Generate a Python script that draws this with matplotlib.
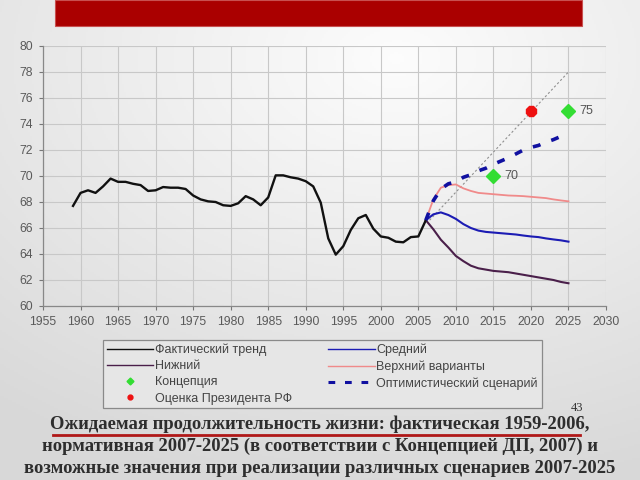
import numpy as np
import matplotlib
matplotlib.use("Agg")
import matplotlib.pyplot as plt
from matplotlib.lines import Line2D
from matplotlib.patches import Rectangle

# ---------------- data ----------------
fact_years = list(range(1959, 2007))
fact_vals = [67.7, 68.7, 68.9, 68.7, 69.2, 69.8, 69.55, 69.55, 69.4, 69.3,
             68.85, 68.9, 69.15, 69.1, 69.1, 69.0, 68.5, 68.2, 68.05, 68.0,
             67.75, 67.7, 67.9, 68.45, 68.2, 67.75, 68.35, 70.05, 70.05, 69.9,
             69.8, 69.6, 69.2, 67.95, 65.2, 63.95, 64.6, 65.85, 66.75, 67.0,
             65.95, 65.35, 65.25, 64.95, 64.9, 65.3, 65.35, 66.6]

fc_years = list(range(2006, 2026))
middle_vals = [66.6, 67.05, 67.2, 67.0, 66.7, 66.3, 66.0, 65.8, 65.7, 65.65,
               65.6, 65.55, 65.5, 65.42, 65.35, 65.3, 65.2, 65.12, 65.05, 64.95]
lower_vals = [66.6, 65.9, 65.1, 64.5, 63.85, 63.45, 63.1, 62.9, 62.8, 62.7,
              62.65, 62.6, 62.5, 62.4, 62.3, 62.2, 62.1, 62.0, 61.85, 61.75]
upper_vals = [66.6, 68.2, 69.1, 69.3, 69.35, 69.05, 68.85, 68.7, 68.65, 68.6,
              68.55, 68.5, 68.48, 68.45, 68.4, 68.35, 68.3, 68.2, 68.12, 68.05]
optim_vals = [66.6, 68.1, 69.0, 69.4, 69.55, 69.9, 70.1, 70.4, 70.6, 70.9,
              71.15, 71.4, 71.7, 72.0, 72.2, 72.35, 72.6, 72.8, 73.05, 73.2]

guide_years = [2006.5, 2025]
guide_vals = [66.6, 78.0]

concept_years = [2015, 2025]
concept_vals = [70, 75]
concept_labels = ["70", "75"]

president_years = [2020]
president_vals = [75]

x_ticks = list(range(1955, 2031, 5))
y_ticks = list(range(60, 81, 2))

legend_labels = ["Фактический тренд", "Нижний", "Концепция", "Оценка Президента РФ",
                 "Средний", "Верхний варианты", "Оптимистический сценарий"]

caption_lines = ["Ожидаемая продолжительность жизни: фактическая 1959-2006,",
                 "нормативная 2007-2025 (в соответствии с Концепцией ДП, 2007) и",
                 "возможные значения при реализации различных сценариев 2007-2025"]
slide_number = "43"

# ---------------- figure ----------------
W, H = 640, 480
fig = plt.figure(figsize=(6.4, 4.8), dpi=100)

# slide background gradient
bg = fig.add_axes([0, 0, 1, 1], zorder=-10)
yy, xx = np.mgrid[0:1:240j, 0:1:320j]
d = np.sqrt(((xx - 0.62) * 1.0) ** 2 + ((yy - 0.12) * 1.1) ** 2)
img = 0.99 - 0.14 * d
img = np.clip(img, 0.85, 0.99)
bg.imshow(np.dstack([img, img, img]), aspect="auto", extent=[0, 1, 0, 1],
          origin="upper")
bg.set_axis_off()

# red header bar
fig.patches.append(Rectangle((55 / W, 1 - 26 / H), (582 - 55) / W, 26 / H,
                             transform=fig.transFigure, facecolor="#aa0000",
                             edgecolor="#c85050", linewidth=0.8, zorder=1))

ax = fig.add_axes([43 / W, 1 - 306 / H, (606 - 43) / W, (306 - 46) / H])
ax.patch.set_alpha(0)

ax.plot(fact_years, fact_vals, color="#111111", lw=1.7, zorder=5,
        label=legend_labels[0])
ax.plot(fc_years, lower_vals, color="#4a1f4a", lw=1.5, zorder=4,
        label=legend_labels[1])
ax.plot(fc_years, middle_vals, color="#1c1cb4", lw=1.5, zorder=4,
        label=legend_labels[4])
ax.plot(fc_years, upper_vals, color="#f08a8a", lw=1.3, zorder=4,
        label=legend_labels[5])
ax.plot(guide_years, guide_vals, color="#909090", lw=0.8,
        linestyle=(0, (2, 2)), zorder=3)
ax.plot(fc_years, optim_vals, color="#1010a0", lw=2.6,
        linestyle=(0, (2.2, 3.2)), zorder=6, label=legend_labels[6])
ax.plot(concept_years, concept_vals, linestyle="none", marker="D",
        markersize=7, color="#33dd33", zorder=7, label=legend_labels[2])
ax.plot(president_years, president_vals, linestyle="none", marker="8",
        markersize=8, color="#ee1111", zorder=7, label=legend_labels[3])
for xv, yv, t in zip(concept_years, concept_vals, concept_labels):
    ax.annotate(t, (xv, yv), xytext=(8, 0), textcoords="offset points",
                va="center", ha="left", fontsize=9, color="#555555",
                family="Liberation Sans")

ax.set_xlim(1955, 2030)
ax.set_ylim(60, 80)
ax.set_xticks(x_ticks)
ax.set_yticks(y_ticks)
ax.grid(True, color="#c8c8c8", lw=0.8)
ax.set_axisbelow(True)
for s in ["top", "right"]:
    ax.spines[s].set_visible(False)
for s in ["left", "bottom"]:
    ax.spines[s].set_color("#888888")
    ax.spines[s].set_linewidth(0.9)
ax.tick_params(direction="out", length=3, width=0.8, color="#777777",
               labelsize=8.8, labelcolor="#5a5a5a", pad=4)
for lab in ax.get_xticklabels() + ax.get_yticklabels():
    lab.set_family("Liberation Sans")

# legend
h, l = ax.get_legend_handles_labels()
order = [legend_labels.index(x) for x in l]
pairs = sorted(zip(order, h, l))
handles = []
for _, hh, ll in pairs:
    if ll in (legend_labels[2], legend_labels[3]):
        hh = Line2D([], [], linestyle="none", marker="D" if ll == legend_labels[2] else "o",
                    markersize=3.5, color=hh.get_color())
    elif ll == legend_labels[6]:
        hh = Line2D([], [], color="#1010a0", lw=2.2, linestyle=(0, (2.2, 3.2)))
    else:
        hh = Line2D([], [], color=hh.get_color(), lw=1.0)
    handles.append(hh)
leg = fig.legend(handles, [p[2] for p in pairs], ncol=2,
                 loc="upper left", bbox_to_anchor=(103 / W, 1 - 340 / H),
                 bbox_transform=fig.transFigure, frameon=True, fancybox=False,
                 borderaxespad=0, handlelength=3.7,
                 handletextpad=0.15, columnspacing=2.9, labelspacing=0.33,
                 borderpad=0.3, prop={"family": "Liberation Sans", "size": 9})
leg.get_frame().set_edgecolor("#8a8a8a")
leg.get_frame().set_facecolor("#e6e6e6")
leg.get_frame().set_alpha(1)
leg.get_frame().set_linewidth(0.9)
for t in leg.get_texts():
    t.set_color("#444444")

# caption
ys = [429, 451, 473]
for yv, t in zip(ys, caption_lines):
    fig.text(0.5, 1 - yv / H, t, ha="center", va="baseline", fontsize=13.4,
             fontweight="bold", family="Liberation Serif", color="#2e2e2e")
fig.add_artist(Line2D([53 / W, 580 / W], [1 - 435 / H, 1 - 435 / H],
                      transform=fig.transFigure, color="#b01818", lw=2))
fig.text(577 / W, 1 - 408 / H, slide_number, ha="center", va="center",
         fontsize=9, family="Liberation Serif", color="#333333")

fig.savefig("out.png", dpi=100)
